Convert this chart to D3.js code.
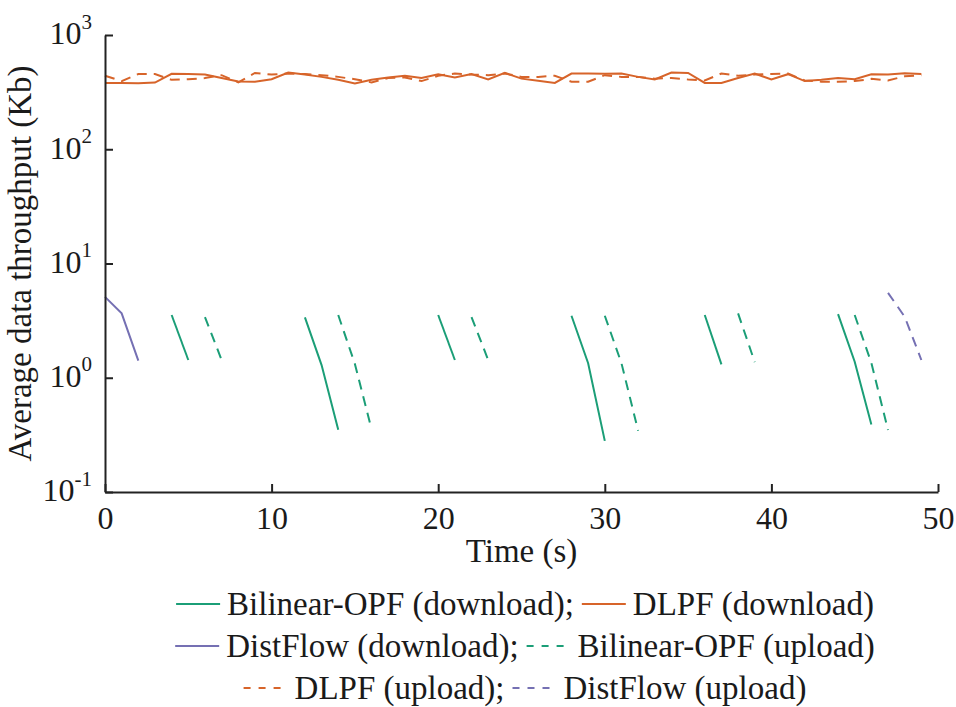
<!DOCTYPE html>
<html>
<head>
<meta charset="utf-8">
<script src="https://cdn.jsdelivr.net/npm/d3@7"></script>
<style>
  body { margin: 0; background: #fff; }
  svg text { font-family: "Liberation Serif", "DejaVu Serif", serif !important; fill: #1a1a1a; }
</style>
</head>
<body>
<svg id="chart" width="956" height="707"></svg>
<script>
// values, one point per second
const dlpfDown = [381, 381, 378, 383, 457, 456, 452, 420, 392, 389,
                  410, 470, 452, 430, 405, 376, 405, 425, 439, 420,
                  454, 425, 455, 408, 466, 415, 398, 381, 460, 460,
                  458, 460, 430, 408, 470, 465, 381, 381, 420, 460,
                  408, 454, 395, 405, 420, 410, 454, 450, 462, 455];
const dlpfUp = [440, 395, 455, 455, 405, 410, 420, 445, 385, 465,
                450, 460, 455, 445, 430, 410, 385, 420, 425, 395,
                440, 460, 450, 445, 460, 430, 430, 440, 390, 390,
                445, 430, 430, 415, 420, 408, 400, 460, 440, 450,
                455, 460, 400, 390, 390, 395, 413, 400, 435, 445];

// short pieces: [time, value]
const bilinearDown = [
  [[4, 3.54], [5, 1.43]],
  [[12, 3.38], [13, 1.29], [14, 0.35]],
  [[20, 3.54], [21, 1.43]],
  [[28, 3.49], [29, 1.34], [30, 0.28]],
  [[36, 3.54], [37, 1.31]],
  [[44, 3.61], [45, 1.38], [46, 0.39]]
];
const bilinearUp = [
  [[6, 3.4], [7, 1.43]],
  [[14, 3.54], [15, 1.32], [16, 0.355]],
  [[22, 3.4], [23, 1.43]],
  [[30, 3.49], [31, 1.34], [32, 0.344]],
  [[38, 3.66], [39, 1.37]],
  [[45, 3.54], [46, 1.35], [47, 0.349]]
];
const distDown = [[[0, 5.1], [1, 3.66], [2, 1.41]]];
const distUp = [[[47, 5.54], [48, 3.42], [49, 1.43]]];

const xTicks = [0, 10, 20, 30, 40, 50];
const yTicks = [0.1, 1, 10, 100, 1000];
const yExp = ["-1", "0", "1", "2", "3"];

const green = "#1b9e77", orange = "#d7642a", purple = "#7570b3";
const dash = "10,7";
const serif = "'Liberation Serif', serif";

const margin = {top: 35, right: 18, bottom: 215, left: 105};
const width = 956 - margin.left - margin.right;
const height = 707 - margin.top - margin.bottom;

const svg = d3.select("#chart");
const g = svg.append("g")
    .attr("transform", `translate(${margin.left},${margin.top})`);

const x = d3.scaleLinear().domain([0, 50]).range([0, width]);
const y = d3.scaleLog().domain([0.1, 1000]).range([height, 0]);

const line = d3.line()
    .x(d => x(d[0]))
    .y(d => y(d[1]));

function drawPieces(pieces, color, dashed) {
  g.append("g").selectAll("path")
    .data(pieces)
    .enter()
    .append("path")
    .attr("d", line)
    .attr("fill", "none")
    .attr("stroke", color)
    .attr("stroke-width", 2)
    .attr("stroke-dasharray", dashed ? dash : null);
}

drawPieces([dlpfDown.map((v, i) => [i, v])], orange, false);
drawPieces([dlpfUp.map((v, i) => [i, v])], orange, true);
drawPieces(bilinearDown, green, false);
drawPieces(bilinearUp, green, true);
drawPieces(distDown, purple, false);
drawPieces(distUp, purple, true);

// axes
const xAxis = g.append("g")
    .attr("transform", `translate(0,${height})`)
    .call(d3.axisBottom(x).tickValues(xTicks).tickSizeInner(-8).tickSizeOuter(0).tickPadding(14));

const yAxis = g.append("g")
    .call(d3.axisLeft(y).tickValues(yTicks).tickSizeInner(-8).tickSizeOuter(0).tickPadding(13)
      .tickFormat(() => ""));

[xAxis, yAxis].forEach(ax => {
  ax.attr("font-family", serif);
  ax.select(".domain").attr("stroke", "#222").attr("stroke-width", 2);
  ax.selectAll(".tick line").attr("stroke", "#222").attr("stroke-width", 2);
  ax.selectAll("text").style("font-family", serif).attr("font-size", 32).attr("fill", "#1a1a1a");
});

yAxis.selectAll(".tick text").each(function(d, i) {
  const t = d3.select(this).attr("dy", "0.28em");
  t.append("tspan").text("10");
  t.append("tspan").text(yExp[i])
    .attr("font-size", 21)
    .attr("dy", "-0.75em");
});

g.append("text")
    .attr("x", width / 2)
    .attr("y", height + 70)
    .attr("text-anchor", "middle")
    .style("font-family", serif)
    .attr("font-size", 33)
    .text("Time (s)");

g.append("text")
    .attr("transform", `translate(${31 - margin.left},${height / 2}) rotate(-90)`)
    .attr("text-anchor", "middle")
    .style("font-family", serif)
    .attr("font-size", 33)
    .text("Average data throughput (Kb)");

// legend, three centred rows
const legendRows = [
  [{label: "Bilinear-OPF (download);", color: green, dashed: false},
   {label: "DLPF (download)", color: orange, dashed: false}],
  [{label: "DistFlow (download);", color: purple, dashed: false},
   {label: "Bilinear-OPF (upload)", color: green, dashed: true}],
  [{label: "DLPF (upload);", color: orange, dashed: true},
   {label: "DistFlow (upload)", color: purple, dashed: true}]
];
const rowY = [615, 657, 699];
const sampleLen = 44, sampleGap = 7, itemGap = 8;

legendRows.forEach((row, r) => {
  const rg = svg.append("g");
  let cx = 0;
  row.forEach(item => {
    rg.append("line")
      .attr("x1", cx).attr("x2", cx + sampleLen)
      .attr("y1", rowY[r] - 11).attr("y2", rowY[r] - 11)
      .attr("stroke", item.color)
      .attr("stroke-width", 2)
      .attr("stroke-dasharray", item.dashed ? "7,8" : null);
    cx += sampleLen + sampleGap;
    const t = rg.append("text")
      .attr("x", cx).attr("y", rowY[r])
      .style("font-family", serif)
      .attr("font-size", 33)
      .text(item.label);
    cx += t.node().getComputedTextLength() + itemGap;
  });
  const total = cx - itemGap;
  rg.attr("transform", `translate(${525 - total / 2},0)`);
});
</script>
</body>
</html>
